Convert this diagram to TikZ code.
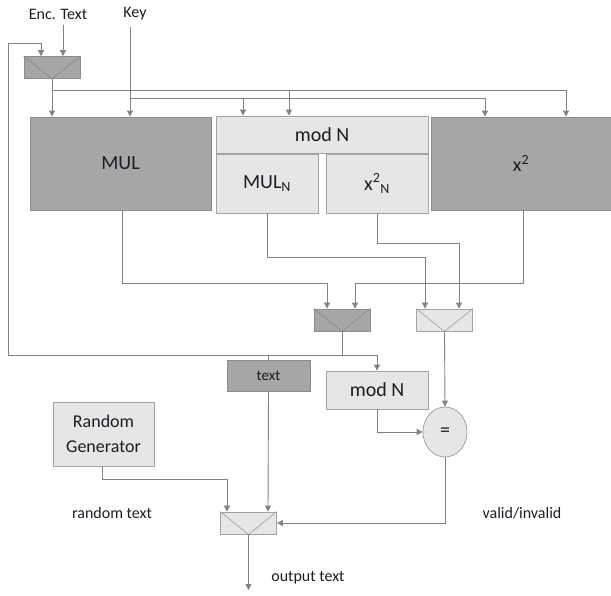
\documentclass[tikz,border=0pt]{standalone}
\usepackage{fontspec}
\setmainfont{Carlito}
\usetikzlibrary{arrows.meta,shapes.geometric}
\definecolor{darkfill}{HTML}{A6A6A6}
\definecolor{lightfill}{HTML}{E6E6E6}
\definecolor{darkedge}{HTML}{8C8C8C}
\definecolor{lightedge}{HTML}{A3A3A3}
\definecolor{wirecol}{HTML}{828282}
\definecolor{ink}{HTML}{1C1C24}

\begin{document}
\begin{tikzpicture}[x=1pt,y=-1pt,
  box/.style={line width=0.8pt, inner sep=0pt, text=ink,
    font=\fontsize{20}{24}\selectfont},
  dbox/.style={box, draw=darkedge, fill=darkfill},
  lbox/.style={box, draw=lightedge, fill=lightfill},
  dmux/.style={dbox, minimum width=56pt, minimum height=22pt},
  lmux/.style={lbox, minimum width=56pt, minimum height=22pt},
  wire/.style={draw=wirecol, line width=0.9pt},
  arr/.style={wire, -{Triangle[width=6pt,length=6pt]}},
  lbl/.style={text=ink, inner sep=6pt, font=\fontsize{16}{19}\selectfont}
]
\useasboundingbox (0,0) rectangle (611,595);

% inputs
\node[lbl] (enc) at (58,14) {Enc. Text};
\node[lbl] (key) at (135,14) {Key};

% input selector
\node[dmux] (mxA) at (52,67.5) {};

% first stage
\node[dbox, minimum width=181pt, minimum height=93pt] (MUL) at (120.5,163.5) {MUL};
\node[lbox, minimum width=212pt, minimum height=37pt] (modN) at (322,134.5) {mod N};
\node[lbox, minimum width=102pt, minimum height=59pt] (MULN) at (267,183.5) {MUL\textsubscript{N}};
\node[lbox, minimum width=102pt, minimum height=59pt] (x2N) at (377,183.5) {x\textsuperscript{2}\textsubscript{N}};
\node[dbox, minimum width=180pt, minimum height=93pt] (x2) at (521,163.5) {x\textsuperscript{2}};

% selectors
\node[dmux] (mxB) at (342,320) {};
\node[lmux] (mxC) at (444.5,320) {};

% check stage
\node[dbox, minimum width=83pt, minimum height=31pt, font=\fontsize{15}{18}\selectfont] (txt) at (268.5,375.5) {text};
\node[lbox, minimum width=102pt, minimum height=38pt] (modN2) at (377,390) {mod N};
\node[lbox, ellipse, minimum width=44pt, minimum height=50pt] (eq) at (445,432) {=};
\node[lbox, minimum width=101pt, minimum height=64pt, align=center,
  font=\fontsize{18}{25}\selectfont] (RG) at (103.5,434) {Random\\Generator};
\node[lmux] (mxD) at (248.5,523) {};

% labels
\node[lbl] (rt) at (112,513) {random text};
\node[lbl] (vi) at (522,513) {valid/invalid};
\node[lbl] (ot) at (308,578) {output text};
\coordinate (out) at (248.5,590);

% selector diagonals
\foreach \m/\c in {mxA/darkedge, mxB/darkedge, mxC/lightedge, mxD/lightedge}{
  \draw[\c, line width=0.7pt] (\m.north west) -- (\m.south) -- (\m.north east);
}

% feedback loop
\coordinate (fb) at (342,355);
\draw[wire] (mxB.south) -- (fb);
\draw[arr] (fb) -| (modN2.north);
\draw[arr] (fb) -| (8,43) -| ([xshift=-11pt]mxA.north);
\draw[wire] (fb -| txt.north) -- (txt.north);

% input wiring
\draw[arr] ([xshift=5pt]enc.south) -- ([xshift=11pt]mxA.north);
\draw[arr] (130,0 |- key.south) -- (130,0 |- MUL.north);
\draw[arr] (mxA.south) -- (52,0 |- MUL.north);
\coordinate (ej) at (52,90);
\coordinate (kj) at (130,98);
\draw[arr] (ej) -| (566,0 |- x2.north);
\draw[arr] (289,0 |- ej) -- (289,0 |- modN.north);
\draw[arr] (kj) -| (485,0 |- x2.north);
\draw[arr] (243,0 |- kj) -- (243,0 |- modN.north);

% first stage outputs
\draw[arr] (122,0 |- MUL.south) |- (327,283) -- (327,0 |- mxB.north);
\draw[arr] (523,0 |- x2.south) |- (355,283) -- (355,0 |- mxB.north);
\draw[arr] (MULN.south) |- (425,257) -- (425,0 |- mxC.north);
\draw[arr] (x2N.south) |- (459,243) -- (459,0 |- mxC.north);

% comparison
\draw[arr] (mxC.south) -- (eq.north);
\draw[arr] (modN2.south) |- (eq.west);
\draw[arr] (eq.south) |- (mxD.east);

% output selection
\draw[arr] (102,0 |- RG.south) |- (227,479) -- (227,0 |- mxD.north);
\draw[arr] (txt.south) -- (268,0 |- mxD.north);
\draw[arr] (mxD.south) -- (out);
\end{tikzpicture}
\end{document}
